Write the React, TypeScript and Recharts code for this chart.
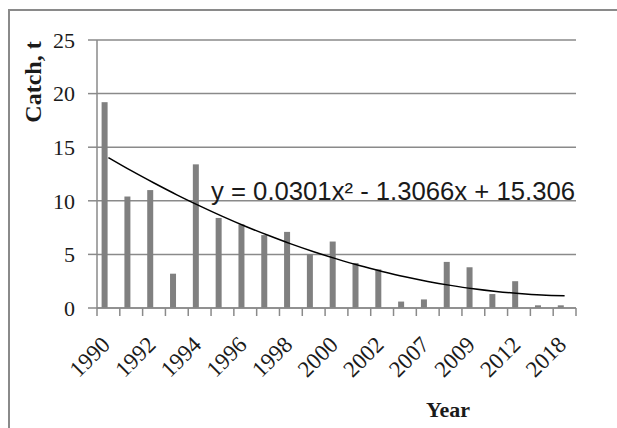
import {
  ComposedChart,
  Bar,
  Line,
  XAxis,
  YAxis,
  CartesianGrid,
} from "recharts";

const years = [
  "1990", "1991", "1992", "1993", "1994", "1995", "1996", "1997", "1998",
  "1999", "2000", "2001", "2002", "2006", "2007", "2008", "2009", "2011",
  "2012", "2016", "2018",
];
const catchValues = [
  19.2, 10.4, 11.0, 3.2, 13.4, 8.4, 7.8, 6.8, 7.1, 5.0, 6.2, 4.2, 3.6, 0.6,
  0.8, 4.3, 3.8, 1.3, 2.5, 0.25, 0.25,
];
// polynomial trendline
const trendValues = [
  14.03, 12.81, 11.66, 10.56, 9.53, 8.55, 7.63, 6.78, 5.98, 5.25, 4.58, 3.96,
  3.41, 2.91, 2.48, 2.11, 1.79, 1.54, 1.35, 1.21, 1.14,
];
const yTicks = [0, 5, 10, 15, 20, 25];
const equation = "y = 0.0301x² - 1.3066x + 15.306";

const W = 617;
const H = 428;
const MARGIN = { top: 40, right: 41, left: 0, bottom: 0 };
const Y_AXIS_W = 97;
const X_AXIS_H = 120;
const PLOT_W = W - MARGIN.right - MARGIN.left - Y_AXIS_W;
const GRAY = "#8a8a8a";
const SERIF = "'Liberation Serif', 'Times New Roman', serif";

const data = years.map((year, i) => ({
  year,
  value: catchValues[i],
  trend: trendValues[i],
}));

function YearTick(props: any) {
  const { x, y, payload, index } = props;
  const band = PLOT_W / years.length;
  const last = index === years.length - 1;
  const tx = x + 3;
  const ty = y + 38;
  return (
    <g>
      <line x1={x - band / 2} x2={x - band / 2} y1={y} y2={y + 8} stroke={GRAY} strokeWidth={1.5} />
      {last && (
        <line x1={x + band / 2} x2={x + band / 2} y1={y} y2={y + 8} stroke={GRAY} strokeWidth={1.5} />
      )}
      {index % 2 === 0 && (
        <text
          x={tx}
          y={ty}
          textAnchor="end"
          transform={`rotate(-45, ${tx}, ${ty})`}
          fontFamily={SERIF}
          fontSize={23}
          fill="#1a1a1a"
        >
          {payload.value}
        </text>
      )}
    </g>
  );
}

function OffsetBar(props: any) {
  const { x, y, width, height, fill } = props;
  if (!height || height <= 0) return null;
  return <rect x={x - 3.4} y={y} width={width} height={height} fill={fill} />;
}

export default function App() {
  return (
    <div
      style={{
        position: "fixed",
        left: 0,
        top: 0,
        width: W,
        height: H,
        overflow: "hidden",
        background: "#fff",
      }}
    >
      <div
        style={{
          position: "absolute",
          left: 8,
          top: 9,
          width: 800,
          height: 600,
          borderLeft: `2px solid ${GRAY}`,
          borderTop: `2px solid ${GRAY}`,
        }}
      />
      <div style={{ position: "absolute", left: 0, top: 0 }}>
        <ComposedChart width={W} height={H} data={data} margin={MARGIN}>
          <CartesianGrid horizontal vertical={false} stroke={GRAY} strokeWidth={1.5} />
          <XAxis
            dataKey="year"
            height={X_AXIS_H}
            interval={0}
            tickLine={false}
            tickSize={0}
            tickMargin={0}
            axisLine={{ stroke: GRAY, strokeWidth: 1.5 }}
            tick={<YearTick />}
          />
          <YAxis
            domain={[0, 25]}
            ticks={yTicks}
            width={Y_AXIS_W}
            tickSize={9}
            tickMargin={13}
            axisLine={{ stroke: GRAY, strokeWidth: 1.5 }}
            tickLine={{ stroke: GRAY, strokeWidth: 1.5 }}
            tick={{ fontFamily: SERIF, fontSize: 22, fill: "#1a1a1a" }}
          />
          <Bar
            dataKey="value"
            fill="#808080"
            barSize={6}
            shape={<OffsetBar />}
            isAnimationActive={false}
          />
          <Line
            dataKey="trend"
            type="monotone"
            stroke="#000"
            strokeWidth={1.5}
            dot={false}
            isAnimationActive={false}
          />
        </ComposedChart>
      </div>
      <svg
        width={W}
        height={H}
        style={{ position: "absolute", left: 0, top: 0, pointerEvents: "none" }}
      >
        <text
          x={41}
          y={82}
          textAnchor="middle"
          transform="rotate(-90, 41, 82)"
          fontFamily={SERIF}
          fontWeight="bold"
          fontSize={24}
          fill="#1a1a1a"
        >
          Catch, t
        </text>
        <text
          x={448}
          y={417}
          textAnchor="middle"
          fontFamily={SERIF}
          fontWeight="bold"
          fontSize={22}
          fill="#1a1a1a"
        >
          Year
        </text>
        <text
          x={211}
          y={200}
          textLength={364}
          lengthAdjust="spacingAndGlyphs"
          fontFamily="'Liberation Sans', Arial, sans-serif"
          fontSize={25}
          fill="#1a1a1a"
        >
          {equation}
        </text>
      </svg>
    </div>
  );
}
